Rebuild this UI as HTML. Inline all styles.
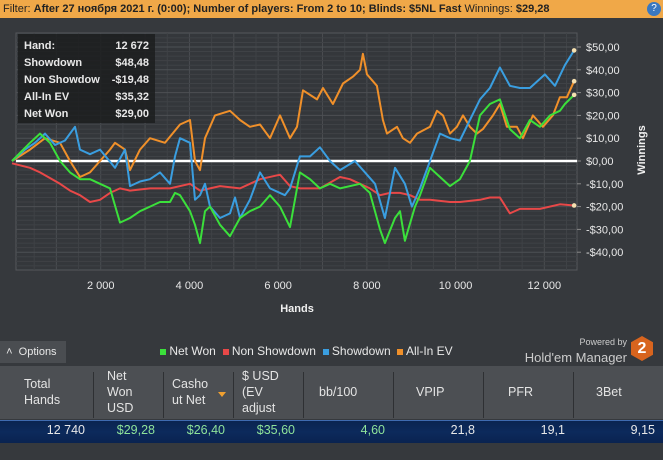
<!DOCTYPE html>
<html><head><meta charset="utf-8"><style>
body{margin:0;width:663px;height:460px;overflow:hidden;background:#36393d;font-family:"Liberation Sans",sans-serif;position:relative}
.abs{position:absolute}
#topbar{left:0;top:0;width:663px;height:18px;background:#f0a848;font-size:11px;line-height:18px;color:#222;white-space:nowrap}
#stats{left:18px;top:34px;width:137px;height:89px;background:rgba(28,29,31,.85);color:#e8e8e8;font-size:11px;font-weight:bold}
#stats div{position:absolute;left:6px}
#stats span{position:absolute;right:6px}
.hdr{position:absolute;top:368px;height:50px;color:#e4e4e4;font-size:12.5px;line-height:16px}
.sep{position:absolute;top:372px;width:1px;height:46px;background:#2e3033}
.val{position:absolute;top:423px;font-size:12.5px;color:#e8e8e8;text-align:right}
.g{color:#8fe39a}
</style></head><body>
<div id="topbar" class="abs">&nbsp;Filter: <b>After 27 ноября 2021 г. (0:00); Number of players: From 2 to 10; Blinds: $5NL Fast</b> Winnings: <b>$29,28</b>
<span class="abs" style="right:2px;top:2px;width:14px;height:14px;border-radius:7px;background:#3a78c0;color:#fff;font-size:10px;line-height:14px;text-align:center">?</span></div>
<svg class="abs" style="left:0;top:18px" width="663" height="320">
<g id="plot" transform="translate(0,-18)"></g>
</svg>
<div id="stats" class="abs">
<div style="top:6px">Hand:</div><span style="top:6px">12 672</span>
<div style="top:23px">Showdown</div><span style="top:23px">$48,48</span>
<div style="top:40px">Non Showdow</div><span style="top:40px;background:#1e1f21;padding-left:2px">-$19,48</span>
<div style="top:57px">All-In EV</div><span style="top:57px">$35,32</span>
<div style="top:74px">Net Won</div><span style="top:74px">$29,00</span>
</div>
<div class="abs" style="left:0;top:341px;width:66px;height:22px;background:#4a4d51;color:#e8e8e8;font-size:11px;line-height:22px">&nbsp;&nbsp;˄&nbsp;&nbsp;Options</div>
<div class="abs" style="left:160px;top:344px;font-size:12px;color:#e8e8e8;white-space:nowrap">
<span><span style="display:inline-block;width:6px;height:6px;background:#3be03b"></span> Net Won</span>
<span>&nbsp;<span style="display:inline-block;width:6px;height:6px;background:#e84848"></span> Non Showdown</span>
<span>&nbsp;<span style="display:inline-block;width:6px;height:6px;background:#3a9ee0"></span> Showdown</span>
<span>&nbsp;<span style="display:inline-block;width:6px;height:6px;background:#f0902a"></span> All-In EV</span></div>
<div class="abs" style="left:470px;top:334px;width:157px;text-align:right;color:#ccc;line-height:13px;white-space:nowrap"><span style="font-size:9px">Powered by</span><br><span style="font-size:13px;line-height:18px">Hold'em Manager</span></div>
<div class="abs" style="left:631px;top:336px;width:22px;height:25px;background:#d8641e;clip-path:polygon(50% 0,100% 25%,100% 75%,50% 100%,0 75%,0 25%);color:#fff;font-weight:bold;font-size:16px;text-align:center;line-height:25px">2</div>
<div class="abs" style="left:0;top:366px;width:663px;height:53px;background:#4c4f53"></div>
<div class="hdr" style="left:24px;top:376px">Total<br>Hands</div>
<div class="hdr" style="left:107px">Net<br>Won<br>USD</div>
<div class="hdr" style="left:172px;top:376px">Casho<br>ut Net</div>
<div class="abs" style="left:218px;top:392px;width:0;height:0;border-left:4px solid transparent;border-right:4px solid transparent;border-top:5px solid #f0a030"></div>
<div class="hdr" style="left:242px">$ USD<br>(EV<br>adjust</div>
<div class="hdr" style="left:319px;top:384px">bb/100</div>
<div class="hdr" style="left:416px;top:384px">VPIP</div>
<div class="hdr" style="left:508px;top:384px">PFR</div>
<div class="hdr" style="left:596px;top:384px">3Bet</div>
<div class="sep" style="left:93px"></div><div class="sep" style="left:163px"></div><div class="sep" style="left:233px"></div><div class="sep" style="left:303px"></div><div class="sep" style="left:393px"></div><div class="sep" style="left:483px"></div><div class="sep" style="left:573px"></div>
<div class="abs" style="left:0;top:420px;width:663px;height:22px;background:linear-gradient(#0a2450,#0c2a5c 50%,#0a2350);border-top:1px solid #3f6bb0"></div>
<div class="val" style="left:0;width:85px">12 740</div>
<div class="val g" style="left:93px;width:62px">$29,28</div>
<div class="val g" style="left:163px;width:62px">$26,40</div>
<div class="val g" style="left:233px;width:62px">$35,60</div>
<div class="val g" style="left:303px;width:82px">4,60</div>
<div class="val" style="left:393px;width:82px">21,8</div>
<div class="val" style="left:483px;width:82px">19,1</div>
<div class="val" style="left:573px;width:82px">9,15</div>
<script>
const xTicks=[2000,4000,6000,8000,10000,12000];
const yTicks=[50,40,30,20,10,0,-10,-20,-30,-40];
const netHands=[0,406,631,857,1082,1307,1533,1758,1984,2209,2434,2660,2885,3111,3336,3561,3674,3787,4012,4125,4238,4350,4463,4688,4914,5139,5364,5590,5815,6041,6266,6491,6717,6942,7168,7393,7844,8069,8295,8407,8633,8746,8858,9084,9197,9422,9648,9873,10098,10323,10436,10549,10774,10999,11225,11450,11676,11901,12127,12352,12465,12672];
const netWon=[0,8,12,8,0,-5,-8,-8,-10,-12,-27,-25,-22,-20,-18,-18,-14,-15,-22,-28,-36,-22,-20,-28,-33,-25,-22,-20,-15,-20,-29,-5,-8,-12,-10,-12,-10,-14,-30,-36,-25,-22,-35,-20,-15,-3,-7,-11,-8,0,10,20,25,27,14,10,18,15,20,22,25,29];
const nsHands=[0,406,631,1082,1307,1533,1758,1984,2209,2434,2660,3111,3561,4012,4238,4688,5139,5590,6041,6266,6491,6942,7393,7618,7844,8069,8295,8520,8746,8971,9197,9422,9873,10098,10549,10774,10999,11225,11450,11901,12352,12672];
const nonShowdown=[-1,-3,-5,-10,-13,-15,-18,-17,-14,-12,-13,-12,-12,-10,-13,-11,-12,-8,-6,-11,-12,-12,-7,-8,-10,-12,-15,-14,-14,-15,-17,-17,-18,-18,-17,-16,-16,-23,-21,-21,-19,-19.5];
const sdHands=[0,293,518,744,969,1195,1420,1533,1758,1984,2322,2547,2660,2885,3111,3336,3561,3674,3787,4012,4125,4238,4350,4463,4688,4914,5026,5139,5364,5590,5815,6153,6266,6491,6717,6942,7168,7393,7731,7957,8182,8407,8633,8858,9016,9197,9422,9648,9873,10098,10323,10549,10774,10999,11225,11450,11676,12014,12240,12465,12672];
const showdown=[0,5,8,12,7,9,15,5,3,5,-3,5,-11,-9,-8,-5,-10,2,10,8,-17,-15,-10,-20,-25,-23,-16,-25,-17,-5,-12,-15,-12,2,2,6,0,-4,0,-5,-10,-25,-3,-10,-20,-12,0,12,10,9,18,27,32,41,33,32,32,38,33,42,48.5];
const evHands=[0,406,744,1082,1307,1533,1758,1984,2209,2322,2547,2660,2885,3111,3449,3787,4012,4125,4238,4350,4576,4914,5139,5364,5590,5815,6041,6266,6424,6559,6875,7010,7235,7461,7686,7844,7911,8002,8227,8362,8453,8678,8813,8971,9129,9422,9580,9715,9873,10030,10166,10323,10481,10616,10842,10999,11157,11383,11518,11743,11969,12194,12352,12510,12672];
const allInEv=[0,5,10,8,0,-7,-5,0,5,8,5,-4,5,10,8,16,18,0,-4,10,20,22,18,15,16,10,20,10,15,31,27,32,25,34,37,40,47,38,33,18,12,15,10,8,12,15,22,20,12,15,20,15,12,14,20,25,15,15,10,20,15,20,28,28,35];
const X0=12,XS=0.04436,Y0=161,YS=2.28;
function x(h){return X0+h*XS}
function y(v){return Y0-v*YS}
const NS='http://www.w3.org/2000/svg';
const g=document.getElementById('plot');
function mk(t,a){const e=document.createElementNS(NS,t);for(const k in a)e.setAttribute(k,a[k]);g.appendChild(e);return e}
mk('rect',{x:16,y:33,width:561,height:237,fill:'#34373b',stroke:'#55585c'});
for(let h=500;h<=12500;h+=500){mk('line',{x1:x(h),x2:x(h),y1:33,y2:270,stroke:h%1000?'#3f4246':'#4a4d51','stroke-width':1});}
for(let v=-48;v<=54;v+=2){const yy=y(v);if(yy<34||yy>269)continue;mk('line',{x1:16,x2:577,y1:yy,y2:yy,stroke:v%10?'#3f4246':'#4d5054','stroke-width':1});}
xTicks.forEach(h=>{const t=mk('text',{x:x(h),y:289,fill:'#e8e8e8','font-size':11,'text-anchor':'middle'});t.textContent=h.toLocaleString('ru-RU').replace(/\s/g,' ');

});
yTicks.forEach(v=>{const t=mk('text',{x:586,y:y(v)+4,fill:'#e8e8e8','font-size':11});t.textContent=(v<0?'-$':'$')+Math.abs(v)+',00';


mk('line',{x1:577,x2:581,y1:y(v),y2:y(v),stroke:'#888'});});
const xt=mk('text',{x:297,y:312,fill:'#f0f0f0','font-size':11,'font-weight':'bold','text-anchor':'middle'});xt.textContent='Hands';


const yt=mk('text',{x:0,y:0,fill:'#f0f0f0','font-size':11,'font-weight':'bold','text-anchor':'middle',transform:'translate(645,150) rotate(-90)'});yt.textContent='Winnings';


const zl=mk('line',{x1:16,x2:577,y1:y(0),y2:y(0),stroke:'#ffffff','stroke-width':2.5});


function series(hs,vs,col,name){
 let p='';for(let i=0;i<hs.length;i++){p+=(i?'L':'M')+x(hs[i]).toFixed(1)+','+y(vs[i]).toFixed(1);}
 const e=mk('path',{d:p,fill:'none',stroke:col,'stroke-width':2,'stroke-linejoin':'round'});
 
 
 const n=hs.length-1;
 const c=mk('circle',{cx:x(hs[n]),cy:y(vs[n]),r:2.3,fill:'#f5e0b0'});
 
 
}
series(evHands,allInEv,'#f0902a','all-in-ev-line');
series(nsHands,nonShowdown,'#e84848','non-showdown-line');
series(sdHands,showdown,'#3a9ee0','showdown-line');
series(netHands,netWon,'#3be03b','net-won-line');
</script>
</body></html>
